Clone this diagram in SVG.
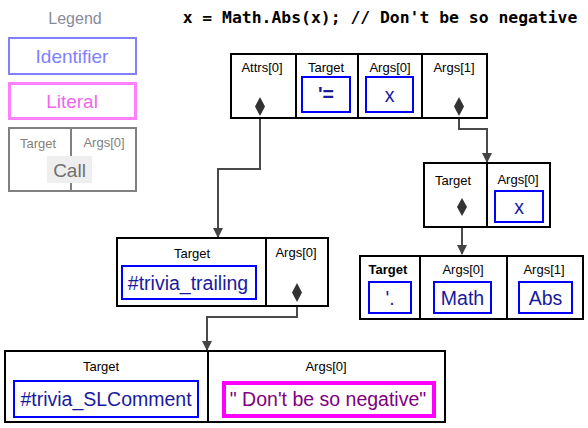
<svg xmlns="http://www.w3.org/2000/svg" width="588" height="428" viewBox="0 0 588 428">
<style>
.node{fill:#fff;stroke:#000;stroke-width:2}
.div{stroke:#000;stroke-width:2}
.lbl{font-family:"Liberation Sans",Arial,sans-serif;font-size:13px;fill:#000;text-anchor:middle}
.id{fill:#fff;stroke:#0000ff;stroke-width:2}
.idt{font-family:"Liberation Sans",Arial,sans-serif;font-size:19.5px;fill:#1a1a9e;text-anchor:middle}
.lit{fill:#fff;stroke:#ff00ff;stroke-width:4}
.litt{font-family:"Liberation Sans",Arial,sans-serif;font-size:19.5px;fill:#800080;text-anchor:middle}
.con{fill:none;stroke:#4a4a4a;stroke-width:2}
.dia{fill:#333}
</style>
<defs>
<marker id="arr" markerWidth="10" markerHeight="10" refX="9" refY="5" orient="auto" markerUnits="userSpaceOnUse">
<path d="M0,0 L10,5 L0,10 Z" fill="#444"/>
</marker>
</defs>
<rect width="588" height="428" fill="#fff"/>
<text x="380" y="23" font-family="'DejaVu Sans Mono','Liberation Mono',monospace" font-weight="bold" font-size="16.4" text-anchor="middle" fill="#000">x = Math.Abs(x); // Don't be so negative</text>
<g id="legend">
<text x="75" y="24" font-family="'Liberation Sans',Arial,sans-serif" font-size="16" fill="#8a8a9a" text-anchor="middle">Legend</text>
<rect x="9" y="38" width="127" height="36" fill="#fff" stroke="#8080ff" stroke-width="2"/>
<text x="72" y="63" font-family="'Liberation Sans',Arial,sans-serif" font-size="19" fill="#8080ff" text-anchor="middle">Identifier</text>
<rect x="9.5" y="83.5" width="126" height="35" fill="#fff" stroke="#ff80ff" stroke-width="3"/>
<text x="72" y="108" font-family="'Liberation Sans',Arial,sans-serif" font-size="19" fill="#ee66ee" text-anchor="middle">Literal</text>
<rect x="9" y="128" width="127" height="63" fill="#fff" stroke="#808080" stroke-width="2"/>
<line x1="71" y1="128" x2="71" y2="191" stroke="#808080" stroke-width="2"/>
<text x="38" y="148" font-family="'Liberation Sans',Arial,sans-serif" font-size="13" fill="#8a8070" text-anchor="middle">Target</text>
<text x="104" y="147" font-family="'Liberation Sans',Arial,sans-serif" font-size="13" fill="#808080" text-anchor="middle">Args[0]</text>
<rect x="47" y="156" width="45" height="27" fill="#eeeeee"/>
<text x="69.5" y="177" font-family="'Liberation Sans',Arial,sans-serif" font-size="19" fill="#707070" text-anchor="middle">Call</text>
</g>
<g id="connectors">
<path class="con" d="M260,116 V169 H218 V237" marker-end="url(#arr)"/>
<path class="con" d="M459,116 V129 H487 V162" marker-end="url(#arr)"/>
<path class="con" d="M462,216 V254" marker-end="url(#arr)"/>
<path class="con" d="M297,302 V317 H207 V350" marker-end="url(#arr)"/>
</g>
<g id="call_assign">
<rect class="node" x="231" y="54" width="256" height="64"/>
<line class="div" x1="296" y1="54" x2="296" y2="118"/>
<line class="div" x1="358" y1="54" x2="358" y2="118"/>
<line class="div" x1="422" y1="54" x2="422" y2="118"/>
<text class="lbl" x="262" y="72">Attrs[0]</text>
<text class="lbl" x="326" y="72">Target</text>
<text class="lbl" x="390" y="72">Args[0]</text>
<text class="lbl" x="454" y="72">Args[1]</text>
<rect class="id" x="302" y="77" width="48" height="35"/>
<text class="idt" x="326" y="101" font-weight="bold" font-size="18">'=</text>
<rect class="id" x="366" y="77" width="47" height="35"/>
<text class="idt" x="389.5" y="102">x</text>
<path class="dia" d="M260,97 L265,106.5 L260,116 L255,106.5 Z"/>
<path class="dia" d="M459,97 L464,106.5 L459,116 L454,106.5 Z"/>
</g>
<g id="call_abs">
<rect class="node" x="424" y="163" width="126" height="64"/>
<line class="div" x1="487" y1="163" x2="487" y2="227"/>
<text class="lbl" x="453" y="185">Target</text>
<text class="lbl" x="518" y="184">Args[0]</text>
<rect class="id" x="495" y="191" width="48" height="31"/>
<text class="idt" x="519" y="214">x</text>
<path class="dia" d="M462,198 L467,207 L462,216 L457,207 Z"/>
</g>
<g id="call_dot">
<rect class="node" x="360" y="256" width="223" height="63"/>
<line class="div" x1="420" y1="256" x2="420" y2="319"/>
<line class="div" x1="507" y1="256" x2="507" y2="319"/>
<text class="lbl" x="388" y="274" font-weight="bold" fill="#222">Target</text>
<text class="lbl" x="463" y="274">Args[0]</text>
<text class="lbl" x="544" y="274">Args[1]</text>
<rect class="id" x="369" y="282" width="42" height="31"/>
<text class="idt" x="390" y="305">'.</text>
<rect class="id" x="434" y="282" width="57" height="31"/>
<text class="idt" x="462.5" y="305">Math</text>
<rect class="id" x="519" y="282" width="53" height="31"/>
<text class="idt" x="545.5" y="305">Abs</text>
</g>
<g id="call_trailing">
<rect class="node" x="117" y="238" width="211" height="68"/>
<line class="div" x1="266" y1="238" x2="266" y2="306"/>
<text class="lbl" x="192" y="258">Target</text>
<text class="lbl" x="296" y="257">Args[0]</text>
<rect class="id" x="122" y="266" width="134" height="33"/>
<text class="idt" x="188" y="290">#trivia_trailing</text>
<path class="dia" d="M297,283 L302,292.5 L297,302 L292,292.5 Z"/>
</g>
<g id="call_comment">
<rect class="node" x="5" y="351" width="440" height="71"/>
<line class="div" x1="208" y1="351" x2="208" y2="422"/>
<text class="lbl" x="101" y="371">Target</text>
<text class="lbl" x="326" y="371">Args[0]</text>
<rect class="id" x="14" y="381" width="184" height="36"/>
<text class="idt" x="106" y="406">#trivia_SLComment</text>
<rect class="lit" x="224" y="383" width="210" height="33"/>
<text class="litt" x="328" y="406">" Don't be so negative"</text>
</g>
</svg>
